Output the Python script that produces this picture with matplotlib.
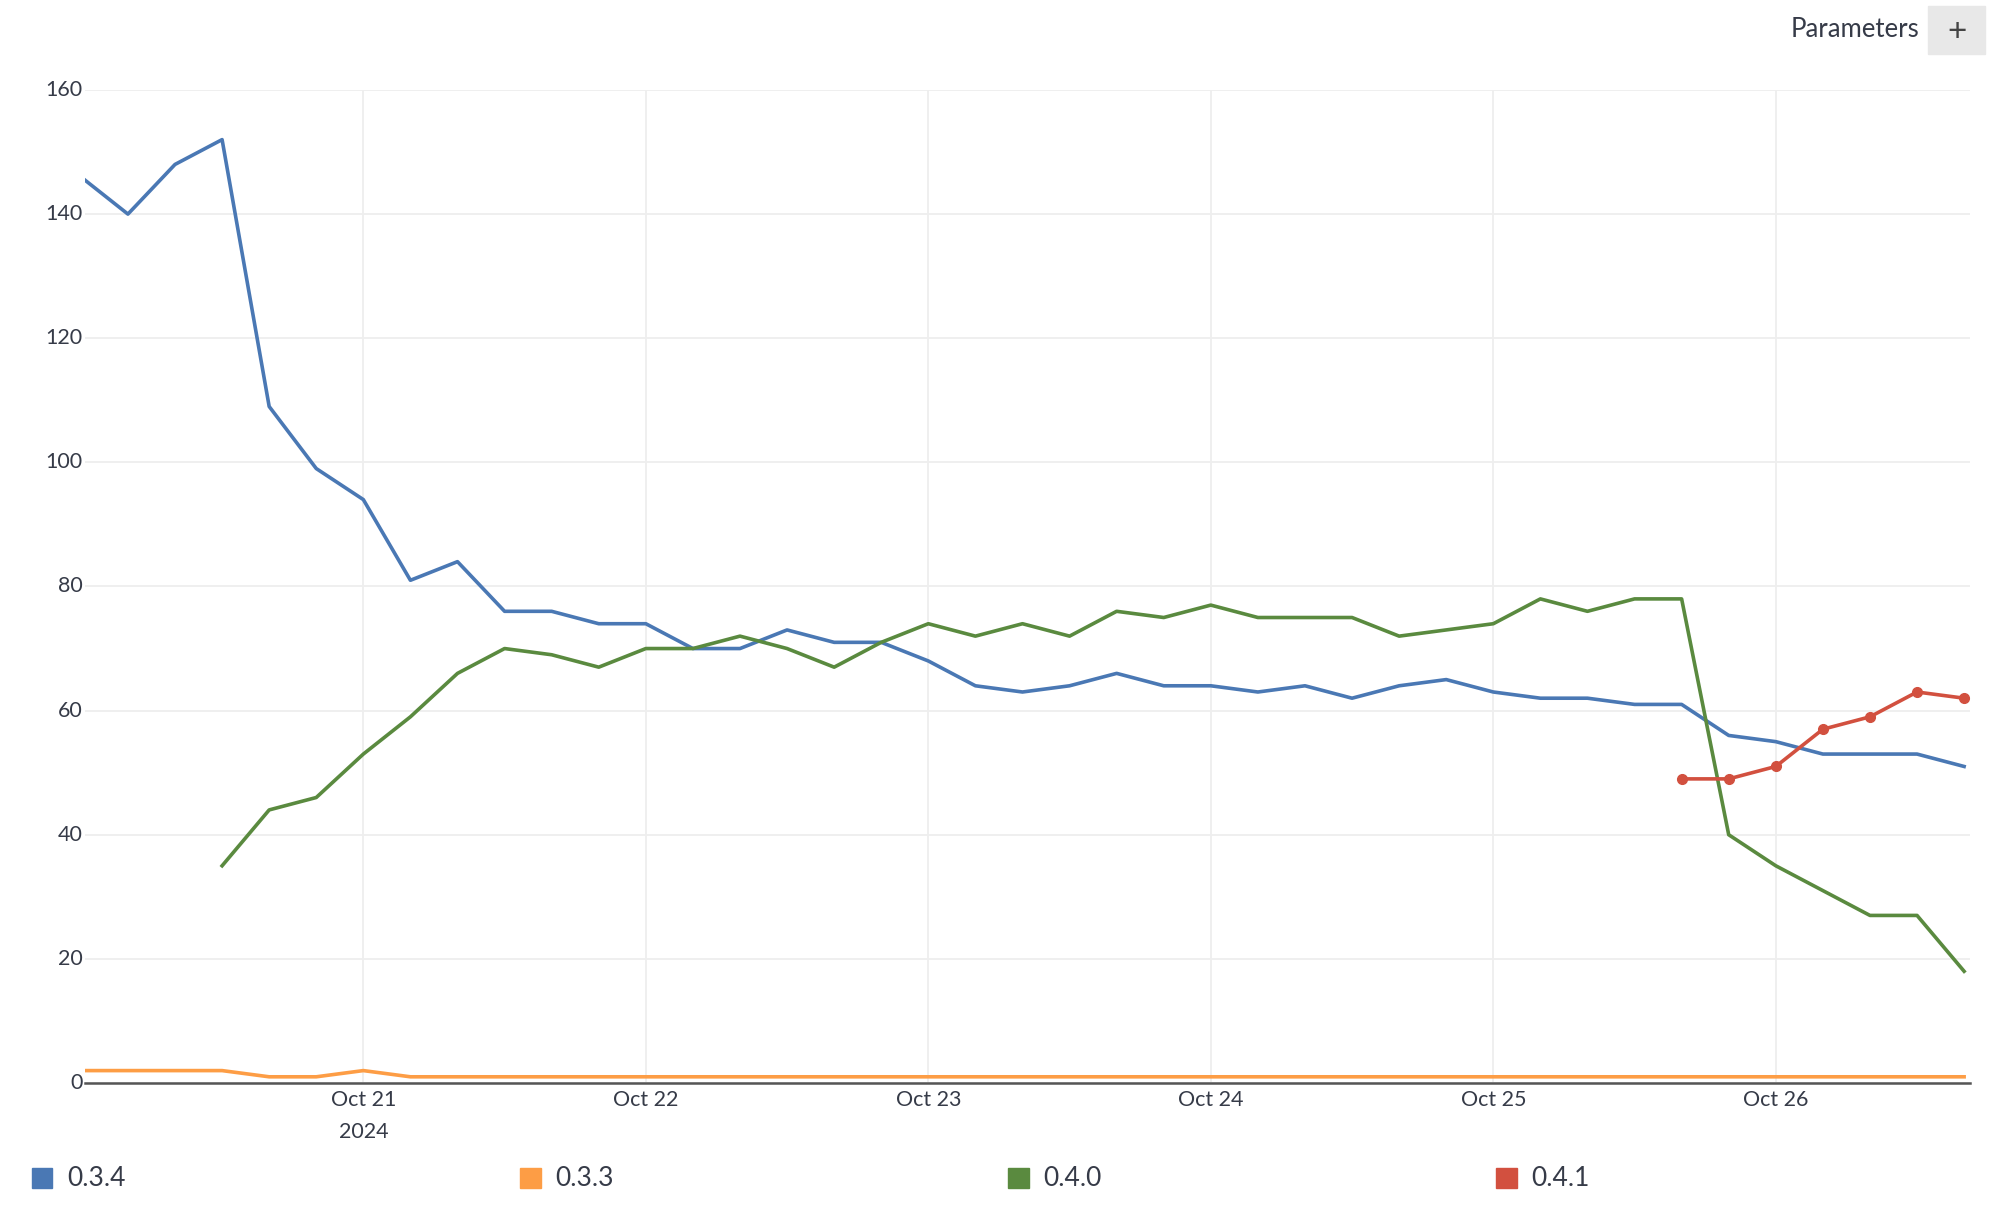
import matplotlib
matplotlib.use('agg')
import matplotlib.pyplot as plt
from matplotlib.patches import Rectangle
import numpy as np
import pandas as pd

# 4-hourly samples, Oct 20 00:00 -> Oct 26 16:00
times = pd.date_range('2024-10-20 00:00', '2024-10-26 16:00', freq='4h')

v034 = [146, 140, 148, 152, 109, 99, 94, 81, 84, 76, 76, 74, 74, 70, 70, 73, 71, 71,
        68, 64, 63, 64, 66, 64, 64, 63, 64, 62, 64, 65, 63, 62, 62, 61, 61, 56, 55,
        53, 53, 53, 51]
v033 = [2, 2, 2, 2, 1, 1, 2] + [1] * 34
v040 = [np.nan] * 3 + [35, 44, 46, 53, 59, 66, 70, 69, 67, 70, 70, 72, 70, 67, 71, 74,
                       72, 74, 72, 76, 75, 77, 75, 75, 75, 72, 73, 74, 78, 76, 78, 78,
                       40, 35, 31, 27, 27, 18]
v041 = [np.nan] * 34 + [49, 49, 51, 57, 59, 63, 62]

series_names = ['0.3.4', '0.3.3', '0.4.0', '0.4.1']
colors = ['#4a78b4', '#fd9d45', '#5a8a3f', '#d2503f']
tick_days = pd.date_range('2024-10-21', '2024-10-26', freq='D')
tick_labels = ['Oct 21\n2024', 'Oct 22', 'Oct 23', 'Oct 24', 'Oct 25', 'Oct 26']

plt.rcParams['font.family'] = ['Lato', 'DejaVu Sans']
text_color = '#363b48'

fig = plt.figure(figsize=(19.99, 12.14), dpi=100)
ax = fig.add_axes([0.0427, 0.1079, 0.9426, 0.818])

ax.plot(times, v034, color=colors[0], lw=2.6, zorder=3)
ax.plot(times, v033, color=colors[1], lw=2.6, zorder=3)
ax.plot(times, v040, color=colors[2], lw=2.6, zorder=3)
ax.plot(times, v041, color=colors[3], lw=2.6, marker='o', markersize=7, zorder=4)

ax.set_ylim(0, 160)
ax.set_xlim(times[0] + pd.Timedelta(minutes=23), times[-1] + pd.Timedelta(minutes=28))
ax.set_yticks(np.arange(0, 161, 20))
ax.set_xticks(tick_days)
ax.set_xticklabels(tick_labels, linespacing=1.75)
ax.tick_params(length=0, labelsize=15.5, colors=text_color, pad=2)
ax.tick_params(axis='x', pad=5)
for lbl in ax.get_yticklabels():
    lbl.set_verticalalignment('center')
ax.grid(True, color='#eeeeee', lw=1.3, zorder=0)
for s in ['top', 'right', 'left']:
    ax.spines[s].set_visible(False)
ax.spines['bottom'].set_color('#555555')
ax.spines['bottom'].set_linewidth(1.8)
ax.spines['bottom'].set_zorder(2)

# legend along the bottom
for i, name in enumerate(series_names):
    x0 = 0.016 + i * 0.2442
    fig.patches.append(Rectangle((x0, 0.0215), 0.0102, 0.0167, transform=fig.transFigure,
                                 color=colors[i]))
    fig.text(x0 + 0.0175, 0.0295, name, fontsize=19, color=text_color, va='center')

# "Parameters" control in the top right
fig.text(0.9600, 0.9755, 'Parameters', fontsize=18.5, color=text_color, ha='right', va='center')
fig.patches.append(Rectangle((0.9645, 0.9555), 0.0285, 0.0395, transform=fig.transFigure,
                             color='#e8e8e8'))
fig.text(0.9788, 0.9740, '+', fontsize=24, color='#444444', ha='center', va='center')

plt.savefig('out.png', dpi=100)
plt.close('all')
